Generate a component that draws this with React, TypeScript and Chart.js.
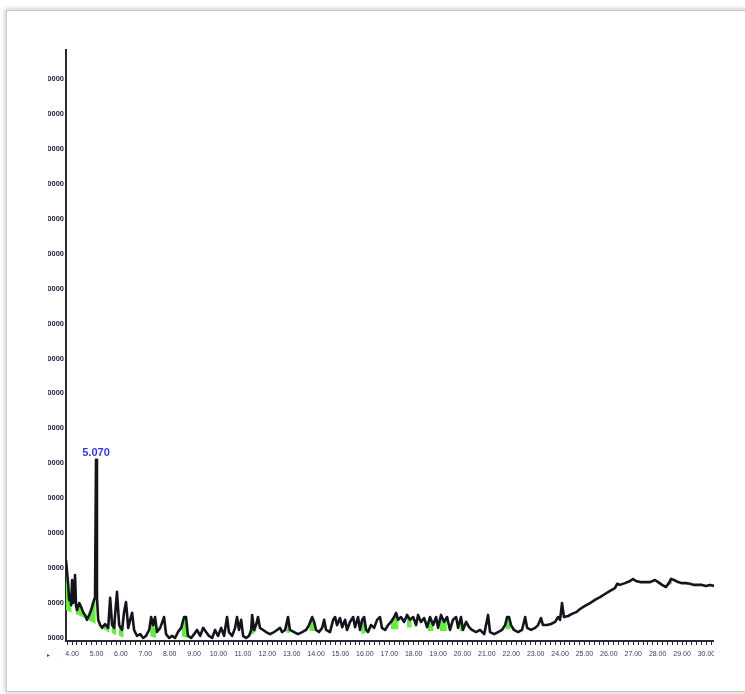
import React, { useEffect, useRef } from "react";
import { Chart, registerables } from "chart.js";

Chart.register(...registerables);

// Retention time (min)
const retentionTimes = [
  3.75, 3.84, 3.88, 3.92, 3.96, 4.0, 4.04, 4.08, 4.12, 4.16, 4.2, 4.29, 4.37, 4.45, 4.53, 4.61, 4.7, 4.78, 4.86, 4.9,
  4.94, 4.98, 5.02, 5.07, 5.15, 5.23, 5.35, 5.48, 5.56, 5.64, 5.72, 5.84, 5.93, 6.05, 6.13, 6.21, 6.3, 6.38, 6.46, 6.54,
  6.66, 6.79, 6.91, 7.03, 7.16, 7.24, 7.32, 7.4, 7.48, 7.61, 7.73, 7.77, 7.85, 7.98, 8.1, 8.22, 8.34, 8.47, 8.59, 8.67,
  8.75, 8.88, 9.0, 9.12, 9.25, 9.37, 9.49, 9.61, 9.74, 9.86, 9.98, 10.11, 10.23, 10.35, 10.43, 10.56, 10.68, 10.76, 10.84, 10.93,
  11.01, 11.13, 11.25, 11.34, 11.38, 11.46, 11.54, 11.62, 11.7, 11.83, 11.95, 12.11, 12.28, 12.4, 12.52, 12.61, 12.73, 12.85, 12.93, 13.1,
  13.26, 13.43, 13.59, 13.71, 13.84, 13.92, 14.0, 14.12, 14.25, 14.33, 14.41, 14.57, 14.7, 14.78, 14.86, 14.98, 15.07, 15.19, 15.27, 15.39,
  15.52, 15.6, 15.72, 15.8, 15.89, 15.97, 16.05, 16.13, 16.25, 16.38, 16.5, 16.62, 16.7, 16.83, 16.95, 17.07, 17.2, 17.28, 17.36, 17.48,
  17.61, 17.73, 17.85, 17.98, 18.1, 18.18, 18.3, 18.43, 18.55, 18.67, 18.8, 18.92, 19.0, 19.12, 19.25, 19.37, 19.49, 19.61, 19.74, 19.82,
  19.94, 20.02, 20.15, 20.27, 20.39, 20.56, 20.72, 20.89, 21.05, 21.13, 21.3, 21.46, 21.62, 21.75, 21.83, 21.91, 21.99, 22.11, 22.28, 22.44,
  22.57, 22.65, 22.81, 22.98, 23.1, 23.22, 23.3, 23.47, 23.63, 23.8, 23.92, 24.0, 24.08, 24.16, 24.33, 24.49, 24.66, 24.82, 25.02, 25.23,
  25.43, 25.64, 25.84, 26.05, 26.25, 26.34, 26.46, 26.66, 26.87, 26.99, 27.11, 27.28, 27.48, 27.69, 27.89, 28.02, 28.18, 28.34, 28.46, 28.55,
  28.67, 28.84, 29.0, 29.16, 29.33, 29.49, 29.66, 29.82, 29.98, 30.15, 30.31,
];

// Abundance (millions)
const abundance = [
  3.23, 2.52, 2.09, 2.23, 1.94, 2.66, 2.0, 2.09, 2.8, 1.94, 1.8, 2.0, 1.89, 1.74, 1.66, 1.52, 1.66, 1.8, 2.0, 2.09,
  2.15, 6.1, 2.15, 1.52, 1.37, 1.29, 1.4, 1.29, 2.15, 1.37, 1.29, 2.32, 1.37, 1.23, 1.74, 2.03, 1.29, 1.52, 1.72, 1.23,
  1.06, 1.11, 1.0, 1.06, 1.23, 1.6, 1.37, 1.6, 1.17, 1.29, 1.52, 1.6, 1.11, 1.0, 1.06, 1.0, 1.17, 1.29, 1.6, 1.6,
  1.06, 1.0, 1.11, 1.23, 1.06, 1.29, 1.17, 1.06, 1.0, 1.23, 1.06, 1.29, 1.06, 1.6, 1.17, 1.06, 1.29, 1.6, 1.23, 1.52,
  1.06, 1.0, 1.06, 1.23, 1.66, 1.23, 1.37, 1.6, 1.29, 1.23, 1.17, 1.11, 1.17, 1.23, 1.29, 1.17, 1.23, 1.6, 1.23, 1.17,
  1.11, 1.17, 1.23, 1.37, 1.6, 1.46, 1.23, 1.17, 1.29, 1.52, 1.23, 1.17, 1.52, 1.6, 1.37, 1.57, 1.31, 1.52, 1.23, 1.46,
  1.6, 1.31, 1.6, 1.23, 1.52, 1.6, 1.23, 1.17, 1.37, 1.29, 1.52, 1.6, 1.29, 1.23, 1.37, 1.46, 1.6, 1.72, 1.52, 1.6,
  1.46, 1.66, 1.52, 1.6, 1.37, 1.66, 1.46, 1.57, 1.31, 1.6, 1.37, 1.6, 1.29, 1.66, 1.46, 1.6, 1.23, 1.52, 1.6, 1.29,
  1.6, 1.23, 1.46, 1.31, 1.23, 1.17, 1.23, 1.11, 1.66, 1.17, 1.11, 1.17, 1.23, 1.37, 1.6, 1.6, 1.37, 1.23, 1.17, 1.23,
  1.6, 1.29, 1.23, 1.29, 1.37, 1.57, 1.37, 1.37, 1.4, 1.46, 1.6, 1.52, 2.0, 1.6, 1.63, 1.69, 1.74, 1.83, 1.92, 2.0,
  2.09, 2.17, 2.26, 2.35, 2.43, 2.55, 2.52, 2.57, 2.63, 2.69, 2.63, 2.6, 2.6, 2.6, 2.66, 2.6, 2.52, 2.46, 2.57, 2.69,
  2.66, 2.6, 2.57, 2.57, 2.55, 2.52, 2.52, 2.52, 2.49, 2.52, 2.49,
];

// Integrated peak baselines (green areas)
const integStart = [3.75, 4.14, 5.3, 5.62, 5.9, 7.2, 8.5, 11.28, 12.78, 13.72, 15.85, 17.05, 17.72, 18.58, 19.08, 19.88, 21.76, 28.42];
const integEnd = [3.98, 4.97, 5.52, 5.8, 6.1, 7.45, 8.72, 11.56, 12.95, 13.95, 16.03, 17.38, 17.92, 18.8, 19.36, 20.06, 21.98, 28.6];
const integStartVal = [1.8, 1.7, 1.25, 1.15, 1.08, 1.05, 1.05, 1.05, 1.15, 1.2, 1.1, 1.25, 1.3, 1.2, 1.2, 1.2, 1.25, 2.5];
const integEndVal = [1.72, 1.4, 1.15, 1.08, 1.0, 1.0, 1.0, 1.2, 1.15, 1.2, 1.15, 1.25, 1.3, 1.2, 1.2, 1.2, 1.25, 2.55];

// Peak annotation
const peakLabels = ["5.070"];

// Axis ticks
const xTickValues = [4, 5, 6, 7, 8, 9, 10, 11, 12, 13, 14, 15, 16, 17, 18, 19, 20, 21, 22, 23, 24, 25, 26, 27, 28, 29, 30];
const xTickLabels = xTickValues.map((v) => v.toFixed(2));
const yTickValues = [1, 2, 3, 4, 5, 6, 7, 8, 9, 10, 11, 12, 13, 14, 15, 16, 17];
const yTickLabels = [
  "1000000", "2000000", "3000000", "4000000", "5000000", "6000000", "7000000", "8000000", "9000000",
  "10000000", "11000000", "12000000", "13000000", "14000000", "15000000", "16000000", "17000000",
];

const peakLabelPlugin = {
  id: "peakLabel",
  afterDatasetsDraw(chart: any) {
    const ctx = chart.ctx;
    const xs = chart.scales.x;
    const ys = chart.scales.y;
    let best = 0;
    abundance.forEach((v, i) => {
      if (v > abundance[best]) best = i;
    });
    const px = xs.getPixelForValue(retentionTimes[best]);
    const py = ys.getPixelForValue(abundance[best]);
    ctx.save();
    ctx.font = "bold 11px 'Liberation Sans', Arial, sans-serif";
    ctx.fillStyle = "#3535ff";
    ctx.textAlign = "center";
    ctx.textBaseline = "bottom";
    ctx.fillText(peakLabels[0], px, py - 1);
    ctx.restore();
  },
};

export default function App() {
  const ref = useRef<HTMLCanvasElement>(null);

  useEffect(() => {
    if (!ref.current) return;
    const trace = retentionTimes.map((t, i) => ({ x: t, y: abundance[i] }));
    const integ: any[] = [];
    integStart.forEach((s, i) => {
      integ.push({ x: s, y: integStartVal[i] });
      integ.push({ x: integEnd[i], y: integEndVal[i] });
      integ.push({ x: (integEnd[i] + (integStart[i + 1] ?? integEnd[i] + 0.2)) / 2, y: null });
    });

    const chart = new Chart(ref.current, {
      type: "line",
      data: {
        datasets: [
          {
            data: trace,
            borderColor: "#14141e",
            borderWidth: 2.6,
            pointRadius: 0,
            tension: 0,
            fill: false,
            borderJoinStyle: "round",
          },
          {
            data: integ,
            borderColor: "transparent",
            borderWidth: 0,
            pointRadius: 0,
            backgroundColor: "#62ee3a",
            fill: "-1",
            spanGaps: false,
          },
        ],
      },
      options: {
        responsive: false,
        animation: false,
        events: [],
        layout: { padding: { left: 0, right: 0, top: 10, bottom: 0 } },
        plugins: { legend: { display: false }, tooltip: { enabled: false } },
        scales: {
          x: {
            type: "linear",
            min: 3.75,
            max: 30.31,
            afterFit: (s: any) => {
              s.height = 29;
              s.paddingLeft = 0;
              s.paddingRight = 0;
            },
            afterBuildTicks: (s: any) => {
              const ticks: any[] = [];
              for (let k = 19; k <= 151; k++) ticks.push({ value: k / 5 });
              s.ticks = ticks;
            },
            ticks: {
              autoSkip: false,
              maxRotation: 0,
              minRotation: 0,
              padding: 5,
              color: "#3a3a5e",
              font: { size: 7, family: "'Liberation Sans', Arial, sans-serif" },
              callback: (v: any) => {
                const i = xTickValues.findIndex((t) => Math.abs(t - v) < 1e-6);
                return i >= 0 ? xTickLabels[i] : "";
              },
            },
            grid: { display: true, drawOnChartArea: false, drawTicks: true, tickLength: 4, color: "#2a2a38", lineWidth: 1 },
            border: { display: true, color: "#2a2a38", width: 2 },
          },
          y: {
            type: "linear",
            min: 0.914,
            max: 17.83,
            afterFit: (s: any) => {
              s.width = 18;
              s.paddingTop = 0;
              s.paddingBottom = 0;
            },
            afterBuildTicks: (s: any) => {
              s.ticks = yTickValues.map((v) => ({ value: v }));
            },
            ticks: {
              padding: 2,
              color: "#26263a",
              font: { size: 7.5, weight: "bold", family: "'Liberation Sans', Arial, sans-serif" },
              callback: (v: any) => {
                const i = yTickValues.findIndex((t) => Math.abs(t - v) < 1e-6);
                return i >= 0 ? yTickLabels[i] : "";
              },
            },
            grid: { display: false, drawTicks: false },
            border: { display: true, color: "#2a2a38", width: 2 },
          },
        },
      },
      plugins: [peakLabelPlugin],
    } as any);
    return () => chart.destroy();
  }, []);

  return (
    <div style={{ position: "fixed", left: 0, top: 0, width: 745, height: 694, background: "#fff", overflow: "hidden" }}>
      <div
        style={{
          position: "absolute",
          left: 6,
          top: 10,
          width: 760,
          height: 680,
          border: "1px solid #c9c9c9",
          boxShadow: "0 0 5px 1px rgba(0,0,0,0.22)",
          background: "#fff",
        }}
      />
      <canvas
        ref={ref}
        width={666}
        height={630}
        style={{ position: "absolute", left: 48, top: 40, width: 666, height: 630, filter: "blur(0.4px)" }}
      />
      <span
        style={{
          position: "absolute",
          left: 47,
          top: 651,
          fontSize: 6,
          color: "#3b3bff",
          fontFamily: "'Liberation Sans', Arial, sans-serif",
        }}
      >
        ▸
      </span>
    </div>
  );
}
